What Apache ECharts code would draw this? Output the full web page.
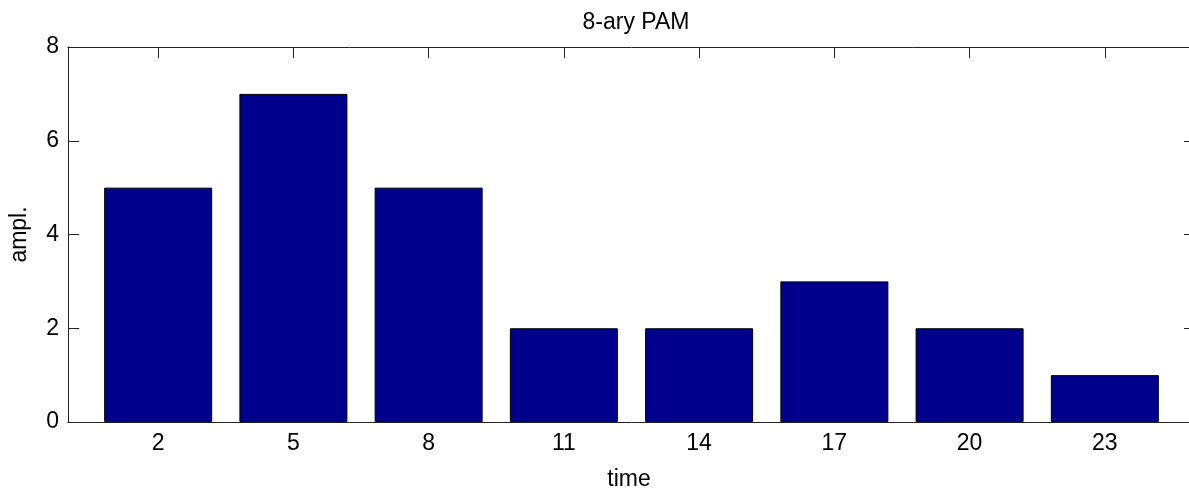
<!DOCTYPE html>
<html>
<head>
<meta charset="utf-8">
<script src="https://cdn.jsdelivr.net/npm/echarts@6/dist/echarts.min.js"></script>
<style>
html,body{margin:0;padding:0;background:#fff;overflow:hidden;}
#c{width:1195px;height:492px;}
</style>
</head>
<body>
<div id="c"></div>
<script>
const times = [2, 5, 8, 11, 14, 17, 20, 23];
const amplitudes = [5, 7, 5, 2, 2, 3, 2, 1];
const xTicks = [2, 5, 8, 11, 14, 17, 20, 23];
const yTicks = [0, 2, 4, 6, 8];

const FONT = 'Liberation Sans, Arial, sans-serif';
const AX = '#222';
const chart = echarts.init(document.getElementById('c'), null, {renderer: 'canvas'});
const pairs = times.map((t, i) => [t, amplitudes[i]]);

chart.setOption({
  animation: false,
  backgroundColor: '#fff',
  title: {
    text: '8-ary PAM', left: 631, top: 6, textAlign: 'center',
    textStyle: {fontFamily: FONT, fontSize: 23, fontWeight: 'normal', color: '#000'}
  },
  grid: {left: 68, top: 47, width: 1127, height: 375, containLabel: false, outerBoundsMode: 'none'},
  xAxis: [{
    type: 'value', min: 0, max: 25, position: 'bottom',
    name: 'time', nameLocation: 'middle', nameGap: 46,
    nameTextStyle: {fontFamily: FONT, fontSize: 23, color: '#000', padding: [0, 5, 0, 0]},
    axisLine: {show: true, lineStyle: {color: AX, width: 1}},
    axisTick: {show: true, inside: true, length: 11, customValues: xTicks, lineStyle: {color: AX}},
    axisLabel: {show: true, customValues: xTicks, margin: 10, fontFamily: FONT, fontSize: 23, color: '#000'},
    splitLine: {show: false}
  }, {
    type: 'value', min: 0, max: 25, position: 'top',
    axisLine: {show: true, onZero: false, lineStyle: {color: AX, width: 1}},
    axisTick: {show: true, inside: true, length: 11, customValues: xTicks, lineStyle: {color: AX}},
    axisLabel: {show: false},
    splitLine: {show: false}
  }],
  yAxis: [{
    type: 'value', min: 0, max: 8, interval: 2, position: 'left',
    name: 'ampl.', nameLocation: 'middle', nameGap: 37, nameRotate: 90,
    nameTextStyle: {fontFamily: FONT, fontSize: 23, color: '#000'},
    axisLine: {show: true, lineStyle: {color: AX, width: 1}},
    axisTick: {show: true, inside: true, length: 11, lineStyle: {color: AX}},
    axisLabel: {show: true, margin: 9, fontFamily: FONT, fontSize: 23, color: '#000'},
    splitLine: {show: false}
  }, {
    type: 'value', min: 0, max: 8, interval: 2, position: 'right',
    axisLine: {show: true, onZero: false, lineStyle: {color: AX, width: 1}},
    axisTick: {show: true, inside: true, length: 11, lineStyle: {color: AX}},
    axisLabel: {show: false},
    splitLine: {show: false}
  }],
  series: [{
    type: 'bar', xAxisIndex: 0, yAxisIndex: 0,
    data: pairs,
    barWidth: 108,
    itemStyle: {color: '#00008C', borderColor: '#000', borderWidth: 1}
  }]
});
</script>
</body>
</html>
